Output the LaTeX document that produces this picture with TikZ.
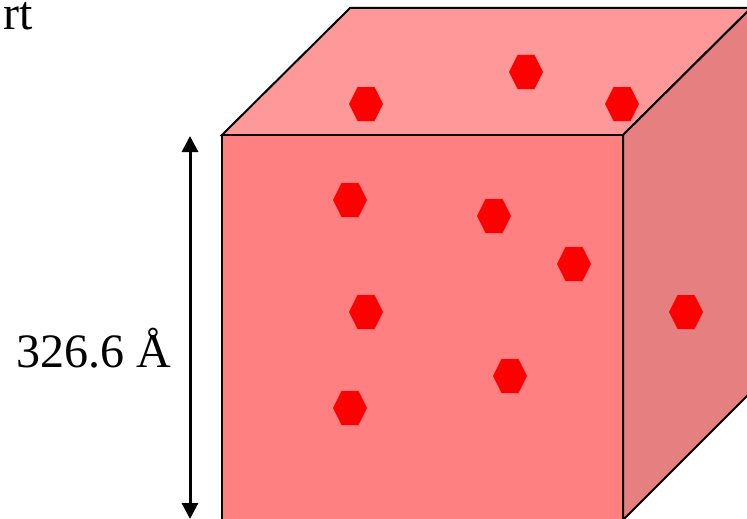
\documentclass[tikz,border=0pt]{standalone}
\usepackage{fontspec}
\setmainfont{Liberation Serif}
\usetikzlibrary{arrows.meta}
\definecolor{frontc}{RGB}{255,128,128}
\definecolor{topc}{RGB}{255,153,153}
\definecolor{sidec}{RGB}{230,128,128}
\definecolor{hexc}{RGB}{255,0,0}
\tikzset{
  face/.style={draw=black,line width=2pt,line join=miter},
  dimarrow/.style={line width=3pt,{Triangle[length=16pt,width=16pt]}-{Triangle[length=16pt,width=16pt]}},
  lbl/.style={inner sep=0pt,font=\fontsize{48}{57}\selectfont}
}
\newcommand{\hexat}[2]{\fill[hexc] (#1-17,#2) -- (#1-8.5,#2-17) -- (#1+8.5,#2-17) -- (#1+17,#2) -- (#1+8.5,#2+17) -- (#1-8.5,#2+17) -- cycle;}
\begin{document}
\begin{tikzpicture}[x=1pt,y=-1pt]
\useasboundingbox (0,0) rectangle (747,519);
\clip (0,0) rectangle (747,519);
% cube corners
\coordinate (ftl) at (222,135);
\coordinate (ftr) at (623,135);
\coordinate (fbr) at (623,520);
\coordinate (fbl) at (222,520);
\coordinate (btl) at (350,8);
\coordinate (btr) at (751,8);
\coordinate (bbr) at (751,392);
% faces
\filldraw[face,fill=topc] (ftl) -- (btl) -- (btr) -- (ftr) -- cycle;
\filldraw[face,fill=sidec] (ftr) -- (btr) -- (bbr) -- (fbr) -- cycle;
\filldraw[face,fill=frontc] (ftl) -- (ftr) -- (fbr) -- (fbl) -- cycle;
% particles
\hexat{366}{104}
\hexat{526}{72}
\hexat{622}{104}
\hexat{350}{200}
\hexat{494}{216}
\hexat{574}{264}
\hexat{366}{312}
\hexat{510}{376}
\hexat{350}{408}
\hexat{686}{312}
% dimension arrow
\coordinate (atop) at (190,136);
\coordinate (abot) at (190,519);
\draw[dimarrow] (abot) -- (atop);
\node[lbl,anchor=base east] (len) at (171,367) {326.6 Å};
\node[lbl,anchor=base east] (part) at (33,30) {rt};
\end{tikzpicture}
\end{document}
